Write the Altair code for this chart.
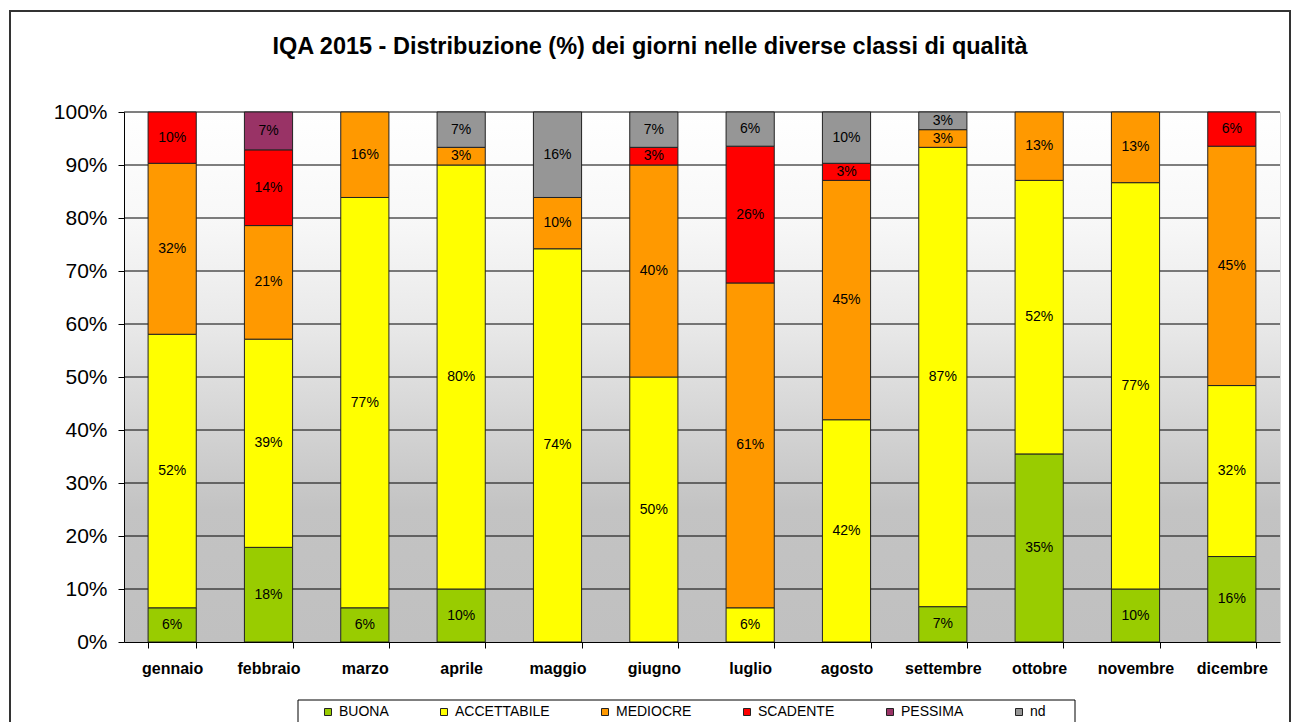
import altair as alt
import pandas as pd

# Giorni del mese in ciascuna classe di qualità dell'aria (IQA 2015)
mesi = ["gennaio", "febbraio", "marzo", "aprile", "maggio", "giugno",
        "luglio", "agosto", "settembre", "ottobre", "novembre", "dicembre"]
classi = ["BUONA", "ACCETTABILE", "MEDIOCRE", "SCADENTE", "PESSIMA", "nd"]
colori = ["#99CC00", "#FFFF00", "#FF9900", "#FF0000", "#993366", "#969696"]

buona = [2, 5, 2, 3, 0, 0, 0, 0, 2, 11, 3, 5]
accettabile = [16, 11, 24, 24, 23, 15, 2, 13, 26, 16, 23, 10]
mediocre = [10, 6, 5, 1, 3, 12, 19, 14, 1, 4, 4, 14]
scadente = [3, 4, 0, 0, 0, 1, 8, 1, 0, 0, 0, 2]
pessima = [0, 2, 0, 0, 0, 0, 0, 0, 0, 0, 0, 0]
nd = [0, 0, 0, 2, 5, 2, 2, 3, 1, 0, 0, 0]

tick_y = [0, 0.1, 0.2, 0.3, 0.4, 0.5, 0.6, 0.7, 0.8, 0.9, 1.0]
titolo = "IQA 2015 - Distribuzione (%) dei giorni nelle diverse classi di qualità"

serie = [buona, accettabile, mediocre, scadente, pessima, nd]
righe = []
for i, (classe, giorni) in enumerate(zip(classi, serie)):
    for mese, g in zip(mesi, giorni):
        if g > 0:
            righe.append({"mese": mese, "classe": classe, "ordine": i, "giorni": g})
df = pd.DataFrame(righe)

W, H = 1156, 530
FONT = "Liberation Sans"

x_enc = alt.X(
    "mese:N", sort=mesi,
    scale=alt.Scale(paddingInner=0.5, paddingOuter=0.25),
    axis=alt.Axis(title=None, labelAngle=0, labelFont=FONT, labelFontSize=16,
                  labelFontWeight="bold", labelColor="#000", tickBand="extent",
                  tickSize=6, tickColor="#000", domainColor="#000",
                  labelPadding=12, grid=False, zindex=1),
)
y_scale = alt.Scale(domain=[0, 1], nice=False)
uno = pd.DataFrame({"k": [0]})

# cornice esterna del grafico e riquadro della legenda
cornice = alt.Chart(uno).mark_rect(
    filled=False, stroke="#333333", strokeWidth=2
).encode(x=alt.value(-114), x2=alt.value(1166), y=alt.value(-101), y2=alt.value(700))

box_legenda = alt.Chart(uno).mark_rect(
    fill="white", stroke="#000000", strokeWidth=1
).encode(x=alt.value(174), x2=alt.value(951), y=alt.value(588), y2=alt.value(650))

intestazione = alt.Chart(uno).mark_text(
    text=titolo, font=FONT, fontSize=23.5, fontWeight="bold", color="#000",
    align="center", baseline="middle"
).encode(x=alt.value(W / 2 - 52), y=alt.value(-65))

# sfondo dell'area del grafico, sfumato dal bianco al grigio
sfondo = alt.Chart(uno).mark_rect(
    color={"gradient": "linear", "x1": 0, "y1": 0, "x2": 0, "y2": 1,
           "stops": [{"offset": 0, "color": "#ffffff"},
                     {"offset": 0.2, "color": "#f8f8f8"},
                     {"offset": 0.4, "color": "#e9e9e9"},
                     {"offset": 0.6, "color": "#d3d3d3"},
                     {"offset": 0.75, "color": "#c3c3c3"},
                     {"offset": 1, "color": "#c0c0c0"}]}
).encode(x=alt.value(0), x2=alt.value(W), y=alt.value(0), y2=alt.value(H))

griglia = alt.Chart(pd.DataFrame({"v": tick_y[1:]})).mark_rule(
    color="#000000", strokeWidth=1
).encode(y=alt.Y("v:Q", scale=y_scale), x=alt.value(0), x2=alt.value(W))

base = (
    alt.Chart(df)
    .transform_joinaggregate(tot="sum(giorni)", groupby=["mese"])
    .transform_calculate(quota="datum.giorni / datum.tot")
    .transform_stack(stack="quota", groupby=["mese"], as_=["y0", "y1"],
                     sort=[alt.SortField(field="ordine", order="ascending")])
    .transform_calculate(ymid="(datum.y0 + datum.y1) / 2")
)

barre = base.mark_bar(stroke="#222222", strokeWidth=1).encode(
    x=x_enc,
    y=alt.Y("y1:Q", scale=y_scale,
            axis=alt.Axis(title=None, values=tick_y, format=".0%", labelFont=FONT,
                          labelFontSize=21, labelColor="#000", tickSize=6,
                          tickColor="#000", domainColor="#000", labelPadding=11,
                          grid=False, zindex=1)),
    y2="y0:Q",
    color=alt.Color(
        "classe:N",
        scale=alt.Scale(domain=classi, range=colori),
        legend=alt.Legend(
            title=None, orient="none", legendX=197, legendY=593,
            direction="horizontal", columns=6, symbolType="square",
            symbolSize=49, symbolStrokeColor="#222222", symbolStrokeWidth=1,
            symbolOpacity=1, labelFont=FONT, labelFontSize=14, labelColor="#000",
            labelOffset=4, columnPadding=48, padding=0,
        ),
    ),
)

etichette = base.mark_text(font=FONT, fontSize=14, color="#000", baseline="middle").encode(
    x=alt.X("mese:N", sort=mesi),
    y=alt.Y("ymid:Q", scale=y_scale),
    text=alt.Text("quota:Q", format=".0%"),
)

chart = (
    alt.layer(cornice, box_legenda, intestazione, sfondo, griglia, barre, etichette)
    .properties(
        width=W, height=H,
        autosize=alt.AutoSizeParams(type="none"),
        padding={"left": 124, "top": 112, "right": 12, "bottom": 80},
    )
    .configure_view(stroke="#808080")
    .configure(background="white")
)

chart.save("out.html", embed_options={"renderer": "svg", "actions": False})
